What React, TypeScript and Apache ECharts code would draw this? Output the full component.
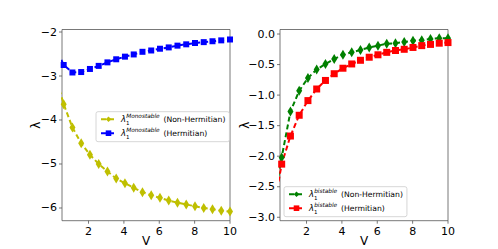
import React, { useEffect, useRef } from "react";
import * as echarts from "echarts";

// V grid (linspace 0.1 .. 10, 21 points)
const V = [0.1, 0.595, 1.09, 1.585, 2.08, 2.575, 3.07, 3.565, 4.06, 4.555, 5.05, 5.545, 6.04, 6.535, 7.03, 7.525, 8.02, 8.515, 9.01, 9.505, 10.0];

const monoNonHermitian = [-2.96, -3.64, -4.17, -4.53, -4.79, -5.0, -5.17, -5.33, -5.44, -5.54, -5.64, -5.71, -5.77, -5.83, -5.88, -5.92, -5.96, -6.0, -6.03, -6.06, -6.08];
const monoHermitian = [-2.3, -2.75, -2.92, -2.91, -2.84, -2.77, -2.69, -2.62, -2.56, -2.51, -2.45, -2.42, -2.38, -2.35, -2.31, -2.28, -2.25, -2.23, -2.21, -2.19, -2.17];

const biNonHermitian = [-2.85, -2.02, -1.27, -0.93, -0.72, -0.58, -0.49, -0.41, -0.34, -0.3, -0.26, -0.22, -0.19, -0.16, -0.15, -0.13, -0.11, -0.1, -0.08, -0.07, -0.07];
const biHermitian = [-2.93, -2.13, -1.67, -1.33, -1.09, -0.9, -0.76, -0.65, -0.56, -0.49, -0.43, -0.38, -0.34, -0.3, -0.27, -0.25, -0.22, -0.19, -0.17, -0.15, -0.14];

const xTicks = [2, 4, 6, 8, 10];
const yTicksLeft = [-6, -5, -4, -3, -2];
const yTicksRight = [-3, -2.5, -2, -1.5, -1, -0.5, 0];

const legendText: Record<string, [string, string]> = {
  monoNH: ["Monostable", "(Non-Hermitian)"],
  monoH: ["Monostable", "(Hermitian)"],
  biNH: ["bistable", "(Non-Hermitian)"],
  biH: ["bistable", "(Hermitian)"],
};

const FONT = "DejaVu Sans";
const SPINE = "#555555";
const X_MIN = 0.5;
const X_MAX = 10;
const Y_LEFT = [-6.289, -1.943];
const Y_RIGHT = [-3.056, 0.074];
const TICK_LEN = 3;

const fmtMinus = (v: number, digits: number) =>
  (v < 0 ? "\u2212" : "") + Math.abs(v).toFixed(digits);

const pairs = (ys: number[]) => V.map((v, i) => [v, ys[i]]);

// small outward tick marks, placed through the axes' own scales
const xTickSeries = (idx: number, yMin: number) => ({
  type: "custom",
  xAxisIndex: idx,
  yAxisIndex: idx,
  silent: true,
  clip: false,
  z: 5,
  data: xTicks.map((v) => [v]),
  renderItem: (params: any, api: any) => {
    const p = api.coord([api.value(0), yMin]);
    return {
      type: "line",
      shape: { x1: p[0], y1: p[1], x2: p[0], y2: p[1] + TICK_LEN },
      style: { stroke: SPINE, lineWidth: 0.8 },
    };
  },
});

const yTickSeries = (idx: number, ticks: number[]) => ({
  type: "custom",
  xAxisIndex: idx,
  yAxisIndex: idx,
  silent: true,
  clip: false,
  z: 5,
  data: ticks.map((v) => [X_MIN, v]),
  renderItem: (params: any, api: any) => {
    const p = api.coord([X_MIN, api.value(1)]);
    return {
      type: "line",
      shape: { x1: p[0] - TICK_LEN, y1: p[1], x2: p[0], y2: p[1] },
      style: { stroke: SPINE, lineWidth: 0.8 },
    };
  },
});

export default function App() {
  const ref = useRef<HTMLDivElement>(null);

  useEffect(() => {
    if (!ref.current) return;
    const chart = echarts.init(ref.current, null, { renderer: "svg" });

    const rich = {
      l: { fontSize: 8.5, fontStyle: "italic", fontFamily: FONT, color: "#000", lineHeight: 13 },
      s: { fontSize: 5.5, fontFamily: FONT, color: "#000", width: 0.1, verticalAlign: "bottom", lineHeight: 13 },
      p: { fontSize: 5.8, fontStyle: "italic", fontFamily: FONT, color: "#000", verticalAlign: "top", lineHeight: 13 },
      t: { fontSize: 7.7, fontFamily: FONT, color: "#000", lineHeight: 13 },
    };
    const fmt = (name: string) => {
      const [sup, rest] = legendText[name];
      return `{l|\u03bb}{s|1}{p|${sup}} {t|${rest}}`;
    };

    const legendBase = {
      orient: "vertical",
      itemWidth: 15,
      itemHeight: 7,
      itemGap: 1,
      padding: [1, 4, 2, 4],
      borderColor: "#cccccc",
      borderWidth: 0.8,
      borderRadius: 2,
      backgroundColor: "rgba(255,255,255,0.8)",
      formatter: fmt,
      textStyle: { rich, fontFamily: FONT },
      selectedMode: false,
    };

    const xAxisBase = (gridIndex: number) => ({
      type: "value",
      gridIndex,
      position: "bottom",
      min: X_MIN,
      max: X_MAX,
      axisLine: { show: false },
      splitLine: { show: false },
      axisTick: { show: false },
      axisLabel: {
        customValues: xTicks,
        fontSize: 11,
        fontFamily: FONT,
        color: "#000",
        margin: 5,
        formatter: (v: number) => fmtMinus(v, 0),
      },
      name: "V",
      nameLocation: "middle",
      nameGap: 14,
      nameMoveOverlap: false,
      nameTextStyle: { fontSize: 12, fontFamily: FONT, color: "#000" },
    });

    const yAxisBase = (gridIndex: number, range: number[], ticks: number[], digits: number, gap: number) => ({
      type: "value",
      gridIndex,
      position: "left",
      min: range[0],
      max: range[1],
      axisLine: { show: false },
      splitLine: { show: false },
      axisTick: { show: false },
      axisLabel: {
        customValues: ticks,
        fontSize: 11,
        fontFamily: FONT,
        color: "#000",
        margin: 5,
        formatter: (v: number) => fmtMinus(v, digits),
      },
      name: "\u03bb",
      nameLocation: "middle",
      nameRotate: 90,
      nameGap: gap,
      nameMoveOverlap: false,
      nameTextStyle: { fontSize: 12, fontFamily: FONT, color: "#000" },
    });

    const option = {
      animation: false,
      textStyle: { fontFamily: FONT },
      grid: [
        { left: 62, top: 29.5, width: 168, height: 191.2, show: true, borderColor: SPINE, borderWidth: 0.8, containLabel: false, outerBoundsMode: "none" },
        { left: 280, top: 29.5, width: 168, height: 191.2, show: true, borderColor: SPINE, borderWidth: 0.8, containLabel: false, outerBoundsMode: "none" },
      ],
      xAxis: [xAxisBase(0), xAxisBase(1)],
      yAxis: [
        yAxisBase(0, Y_LEFT, yTicksLeft, 0, 20),
        yAxisBase(1, Y_RIGHT, yTicksRight, 1, 29),
      ],
      legend: [
        { ...legendBase, left: 96, top: 111.7, data: ["monoNH", "monoH"] },
        { ...legendBase, left: 284, top: 186.7, data: ["biNH", "biH"] },
      ],
      series: [
        {
          name: "monoNH",
          type: "line",
          xAxisIndex: 0,
          yAxisIndex: 0,
          data: pairs(monoNonHermitian),
          symbol: "diamond",
          symbolSize: [6, 10],
          clip: true,
          color: "#bfbf00",
          itemStyle: { color: "#bfbf00" },
          lineStyle: { color: "#bfbf00", width: 2, type: [5, 3] },
        },
        {
          name: "monoH",
          type: "line",
          xAxisIndex: 0,
          yAxisIndex: 0,
          data: pairs(monoHermitian),
          symbol: "rect",
          symbolSize: 6,
          clip: true,
          color: "#0000ff",
          itemStyle: { color: "#0000ff" },
          lineStyle: { color: "#0000ff", width: 2, type: [5, 3] },
        },
        {
          name: "biNH",
          type: "line",
          xAxisIndex: 1,
          yAxisIndex: 1,
          data: pairs(biNonHermitian),
          symbol: "diamond",
          symbolSize: [6, 10],
          clip: true,
          color: "#008000",
          itemStyle: { color: "#008000" },
          lineStyle: { color: "#008000", width: 2, type: [5, 3] },
        },
        {
          name: "biH",
          type: "line",
          xAxisIndex: 1,
          yAxisIndex: 1,
          data: pairs(biHermitian),
          symbol: "rect",
          symbolSize: 7,
          clip: true,
          color: "#ff0000",
          itemStyle: { color: "#ff0000" },
          lineStyle: { color: "#ff0000", width: 2, type: [5, 3] },
        },
        xTickSeries(0, Y_LEFT[0]),
        xTickSeries(1, Y_RIGHT[0]),
        yTickSeries(0, yTicksLeft),
        yTickSeries(1, yTicksRight),
      ],
    };

    chart.setOption(option as any);
    return () => chart.dispose();
  }, []);

  return (
    <div
      ref={ref}
      style={{ position: "fixed", left: 0, top: 0, width: 498, height: 249, background: "#fff" }}
    />
  );
}
